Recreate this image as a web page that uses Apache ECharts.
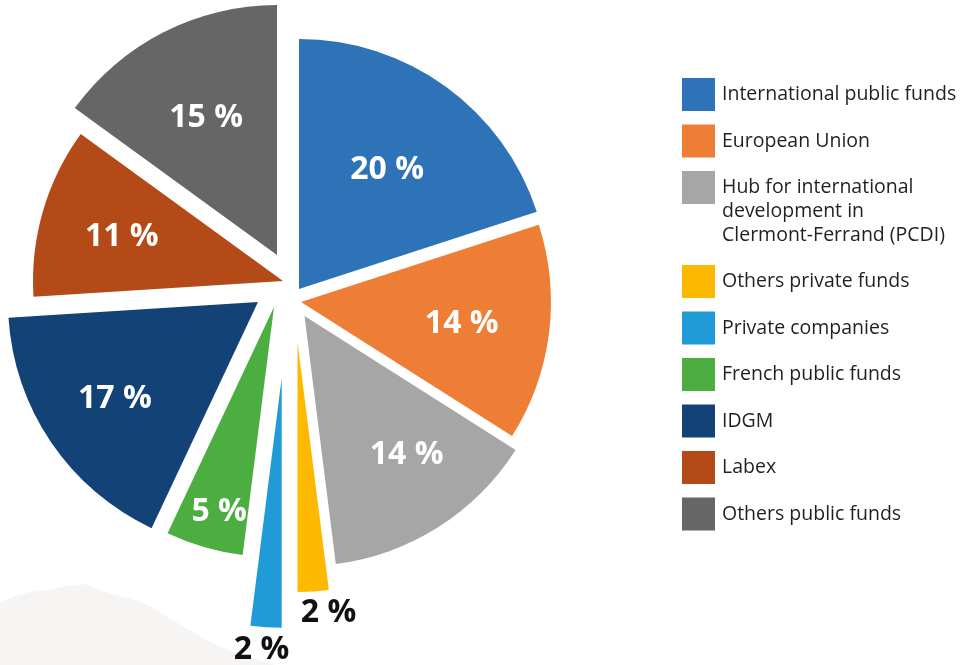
<!DOCTYPE html>
<html><head><meta charset="utf-8">
<script src="https://cdn.jsdelivr.net/npm/echarts@6/dist/echarts.min.js"></script>
<style>html,body{margin:0;padding:0;background:#fff}#c{width:960px;height:665px}</style>
</head><body><div id="c"></div>
<script>
// ---- data ----
const categories = [
  'International public funds',
  'European Union',
  'Hub for international development in Clermont-Ferrand (PCDI)',
  'Others private funds',
  'Private companies',
  'French public funds',
  'IDGM',
  'Labex',
  'Others public funds'
];
const values = [20, 14, 14, 2, 2, 5, 17, 11, 15];

// ---- style / layout ----
const colors = ['#2e72b8', '#ee7d35', '#a6a6a6', '#fcb900', '#209bd8', '#4cae41', '#134276', '#b54a19', '#666666'];
const labelColors = ['#fff', '#fff', '#fff', '#111', '#111', '#fff', '#fff', '#fff', '#fff'];
// apex (tip) position of every exploded slice, px
const sliceCenters = [[299, 289], [301, 302], [304.5, 316], [297.5, 342], [281.7, 377.7], [274, 307], [258, 302], [283, 281], [277, 255]];
const labelRadius = [147, 159, 169, 268, 270, 208, 170, 167, 153];
const labelNudge = [[0, 2], [0, 2], [10, -6], [14, 0], [-3, 0], [4, 2], [0, 0], [2, 3], [0, 2]];
const R = 250;
const FONT = 'Open Sans';
const hubWrapped = '\n\nHub for international\ndevelopment in\nClermont-Ferrand (PCDI)';

const series = [];
categories.forEach((name, i) => {
  series.push({
    type: 'pie', center: sliceCenters[i], radius: [0, R], startAngle: 90, clockwise: true,
    silent: true, animation: false, avoidLabelOverlap: false, z: 2,
    label: { show: false }, labelLine: { show: false }, emphasis: { disabled: true },
    itemStyle: { borderWidth: 0 },
    data: values.map((v, j) => j === i
      ? { value: v, name: name, itemStyle: { color: colors[i] } }
      : { value: v, name: '', itemStyle: { color: 'rgba(0,0,0,0)' } })
  });
  const lr = labelRadius[i];
  series.push({
    type: 'pie', center: sliceCenters[i], radius: lr < R ? [2 * lr - R, R] : [R, 2 * lr - R],
    startAngle: 90, clockwise: true, silent: true, animation: false, avoidLabelOverlap: false, z: 3,
    labelLine: { show: false }, emphasis: { disabled: true },
    itemStyle: { borderWidth: 0, color: 'rgba(0,0,0,0)' },
    label: { show: true, position: 'inside', formatter: '{c} %', color: labelColors[i],
      fontFamily: FONT, fontWeight: 'bold', fontSize: 32 },
    labelLayout: { dx: labelNudge[i][0], dy: labelNudge[i][1] },
    data: values.map((v, j) => ({ value: v, name: '', label: { show: j === i } }))
  });
});

function legendFor(idxs, top, lineHeight) {
  return {
    orient: 'vertical', left: 682, top: top, padding: 0,
    itemWidth: 33, itemHeight: 33, itemGap: 13.5, icon: 'rect', selectedMode: false,
    formatter: n => n === categories[2] ? hubWrapped : n,
    textStyle: { fontFamily: FONT, fontSize: 19.5, color: '#231f20', padding: [0, 0, 0, 2], lineHeight: lineHeight },
    data: idxs.map(k => ({ name: categories[k], itemStyle: { color: colors[k] } }))
  };
}

const option = {
  backgroundColor: '#fff',
  graphic: [{
    type: 'polygon', z: -1, silent: true,
    shape: { points: [[0, 603], [14, 596], [30, 592], [48, 590], [66, 586], [84, 584], [98, 589], [112, 594], [128, 598], [146, 604], [166, 616], [186, 628], [206, 640], [228, 650], [250, 658], [275, 665], [0, 665]] },
    style: { fill: '#f7f5f3' }
  }],
  legend: [
    legendFor([0, 1], 78, 26),
    legendFor([2], 127.5, 24),
    legendFor([3, 4, 5, 6, 7, 8], 265, 26)
  ],
  series: series
};
const chart = echarts.init(document.getElementById('c'), null, { renderer: 'canvas' });
chart.setOption(option);
</script></body></html>
